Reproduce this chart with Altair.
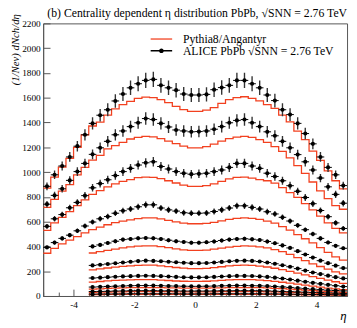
import altair as alt
import pandas as pd

SERIF = "Liberation Serif"
RED = "#f2401f"
FRAME = "#555555"

PYTHIA_LABEL = "Pythia8/Angantyr"
ALICE_LABEL = "ALICE PbPb √SNN = 2.76 TeV"
TITLE = "(b) Centrality dependent η distribution PbPb, √SNN = 2.76 TeV"

CENTRALITY = ["0-5%", "5-10%", "10-20%", "20-30%", "30-40%",
              "40-50%", "50-60%", "60-70%", "70-80%", "80-90%"]

ETA_EDGES = [-5.0, -4.75, -4.5, -4.25, -4.0, -3.75, -3.5, -3.25, -3.0, -2.75,
             -2.5, -2.25, -2.0, -1.75, -1.5, -1.25, -1.0, -0.75, -0.5, -0.25,
             0.0, 0.25, 0.5, 0.75, 1.0, 1.25, 1.5, 1.75, 2.0, 2.25,
             2.5, 2.75, 3.0, 3.25, 3.5, 3.75, 4.0, 4.25, 4.5, 4.75, 5.0]
# index of the first bin edge of each centrality class
FIRST_EDGE = [0, 0, 0, 0, 6, 6, 6, 6, 6, 6]
# relative size of the ALICE uncertainty bars
ERR_REL = [0.035, 0.035, 0.035, 0.035, 0.035, 0.035, 0.035, 0.04, 0.05, 0.06]

X_LABELS = [-4, -2, 0, 2, 4]
X_TICKS = [-5.0, -4.5, -4.0, -3.5, -3.0, -2.5, -2.0, -1.5, -1.0, -0.5, 0.0,
           0.5, 1.0, 1.5, 2.0, 2.5, 3.0, 3.5, 4.0, 4.5, 5.0]
Y_TICKS = [0, 200, 400, 600, 800, 1000, 1200, 1400, 1600, 1800, 2000, 2200]

ALICE = [
    [885, 978, 1049, 1122, 1209, 1301, 1393, 1459, 1503, 1574, 1630, 1680, 1713, 1740, 1748, 1700, 1680, 1661, 1630, 1622,
     1622, 1627, 1665, 1682, 1700, 1740, 1740, 1713, 1680, 1622, 1577, 1503, 1464, 1393, 1311, 1228, 1122, 1038, 978, 891],
    [741, 812, 865, 933, 1004, 1070, 1143, 1196, 1248, 1301, 1332, 1367, 1398, 1432, 1424, 1393, 1364, 1340, 1332, 1325,
     1327, 1332, 1346, 1367, 1398, 1417, 1424, 1398, 1367, 1325, 1293, 1248, 1196, 1141, 1083, 1017, 952, 881, 820, 749],
    [562, 623, 657, 712, 755, 810, 873, 907, 938, 972, 1004, 1030, 1057, 1075, 1083, 1045, 1025, 1004, 991, 983,
     986, 991, 1004, 1017, 1038, 1070, 1070, 1049, 1030, 991, 964, 930, 890, 845, 795, 745, 690, 640, 590, 545],
    [392, 431, 465, 491, 526, 565, 597, 623, 641, 668, 688, 702, 720, 736, 736, 710, 695, 685, 672, 668,
     668, 670, 682, 695, 710, 728, 728, 715, 702, 680, 662, 635, 605, 570, 535, 500, 465, 432, 405, 385],
    [400, 412, 428, 442, 455, 460, 466, 468, 466, 460, 450, 442, 436, 430,
     430, 434, 440, 448, 455, 460, 462, 458, 452, 440, 426, 408, 388, 362, 335, 310, 285, 265, 245, 225],
    [247, 252, 258, 264, 270, 276, 282, 285, 283, 280, 276, 272, 268, 265,
     265, 266, 270, 275, 280, 284, 285, 283, 278, 270, 260, 248, 236, 221, 205, 190, 177, 164, 152, 142],
    [145, 148, 152, 155, 158, 160, 162, 163, 162, 160, 157, 154, 151, 150,
     150, 151, 154, 157, 160, 162, 162, 161, 158, 154, 148, 141, 133, 124, 115, 106, 98, 90, 83, 76],
    [72, 74, 77, 79, 81, 83, 84, 84, 84, 83, 81, 80, 79, 78,
     78, 79, 80, 82, 83, 84, 84, 83, 82, 80, 77, 73, 69, 64, 59, 55, 51, 47, 44, 41],
    [36, 37, 38, 40, 41, 42, 43, 43, 43, 42, 42, 41, 40, 40,
     40, 40, 41, 42, 42, 43, 43, 43, 42, 41, 39, 37, 35, 33, 31, 29, 27, 25, 23, 21],
    [15, 16, 16, 17, 17, 18, 18, 18, 18, 18, 18, 18, 17, 17,
     17, 17, 18, 18, 18, 18, 18, 18, 18, 17, 17, 16, 15, 14, 13, 12, 12, 11, 10, 9],
]

PYTHIA = [
    [870, 960, 1040, 1110, 1200, 1300, 1372, 1403, 1460, 1510, 1545, 1570, 1595, 1605, 1600, 1585, 1560, 1530, 1505, 1490,
     1490, 1500, 1520, 1555, 1585, 1600, 1608, 1595, 1575, 1545, 1515, 1460, 1405, 1330, 1262, 1170, 1095, 1010, 930, 865],
    [715, 780, 846, 899, 978, 1038, 1096, 1135, 1188, 1214, 1240, 1267, 1280, 1288, 1285, 1270, 1250, 1230, 1210, 1196,
     1196, 1205, 1225, 1250, 1270, 1283, 1288, 1280, 1262, 1240, 1205, 1168, 1115, 1052, 990, 920, 848, 785, 730, 700],
    [530, 590, 635, 680, 730, 775, 820, 850, 880, 905, 925, 940, 955, 960, 958, 948, 930, 912, 895, 885,
     885, 890, 905, 925, 945, 958, 960, 952, 940, 930, 910, 875, 835, 795, 745, 695, 645, 590, 545, 510],
    [345, 385, 420, 450, 480, 510, 535, 555, 575, 592, 605, 615, 625, 630, 630, 622, 610, 598, 588, 583,
     583, 586, 595, 607, 618, 626, 630, 626, 618, 605, 588, 560, 531, 495, 462, 428, 390, 352, 315, 290],
    [347, 358, 368, 378, 388, 396, 402, 405, 404, 398, 390, 380, 372, 368,
     368, 371, 378, 386, 395, 401, 404, 402, 397, 388, 375, 358, 335, 310, 285, 260, 238, 217, 195, 178],
    [210, 218, 226, 233, 239, 244, 248, 250, 249, 244, 237, 230, 225, 221,
     221, 223, 229, 236, 243, 248, 250, 248, 242, 234, 224, 213, 198, 184, 170, 156, 142, 128, 115, 102],
    [112, 117, 122, 126, 129, 131, 133, 133, 132, 129, 125, 121, 119, 118,
     118, 119, 122, 126, 130, 132, 133, 132, 129, 124, 118, 111, 103, 95, 87, 79, 71, 64, 58, 52],
    [56, 58, 61, 63, 65, 67, 68, 68, 68, 67, 66, 65, 64, 64,
     64, 64, 65, 66, 67, 68, 68, 68, 67, 65, 62, 59, 55, 51, 47, 43, 39, 36, 33, 30],
    [30, 31, 32, 33, 34, 35, 36, 36, 36, 35, 35, 34, 34, 34,
     34, 34, 34, 35, 35, 36, 36, 36, 35, 34, 33, 31, 29, 27, 25, 23, 21, 19, 17, 15],
    [12, 12, 13, 13, 14, 14, 14, 14, 14, 14, 14, 14, 14, 14,
     14, 14, 14, 14, 14, 14, 14, 14, 14, 14, 13, 13, 12, 11, 10, 9, 9, 8, 7, 6],
]

# ---- tables built from the arrays above ----
alice_rows, model_rows = [], []
for k, cent in enumerate(CENTRALITY):
    s = FIRST_EDGE[k]
    for i, v in enumerate(ALICE[k]):
        lo, hi = ETA_EDGES[s + i], ETA_EDGES[s + i + 1]
        alice_rows.append({"cent": cent, "eta": (lo + hi) / 2, "lo": lo, "hi": hi,
                           "val": v, "ylo": v * (1 - ERR_REL[k]), "yhi": v * (1 + ERR_REL[k]),
                           "exp": ALICE_LABEL})
    pv = PYTHIA[k]
    for i, v in enumerate(pv):
        model_rows.append({"cent": cent, "eta": ETA_EDGES[s + i], "val": v, "model": PYTHIA_LABEL})
    model_rows.append({"cent": cent, "eta": ETA_EDGES[s + len(pv)], "val": pv[-1], "model": PYTHIA_LABEL})

alice_df = pd.DataFrame(alice_rows)
model_df = pd.DataFrame(model_rows)

W, H = 311, 279
xs = alt.Scale(domain=[-5, 5], nice=False, zero=False)
ys = alt.Scale(domain=[0, 2200], nice=False, zero=False)

ALICE_SYMBOL = ("M-1,-0.06H1V0.06H-1Z "
                "M0.22,0A0.22,0.22 0 1,1 -0.22,0A0.22,0.22 0 1,1 0.22,0Z")

lines = alt.Chart(model_df).mark_line(interpolate="step-after", strokeWidth=1.3, clip=True).encode(
    x=alt.X("eta:Q", scale=xs, axis=alt.Axis(
        orient="bottom", values=X_LABELS, ticks=False, grid=False,
        domainColor=FRAME, labelExpr="'' + datum.value",
        labelFont=SERIF, labelFontSize=9.5, labelColor="black", labelPadding=4,
        title="η", titleFont=SERIF, titleFontSize=13, titleFontStyle="italic",
        titleFontWeight="normal", titleAlign="right", titleBaseline="alphabetic",
        titleX=W - 1, titleY=24)),
    y=alt.Y("val:Q", scale=ys, axis=alt.Axis(
        orient="left", values=Y_TICKS, ticks=False, grid=False, format="d",
        domainColor=FRAME, labelFont=SERIF, labelFontSize=9.5, labelColor="black",
        labelPadding=3,
        title="(1/Nev) dNch/dη", titleFont=SERIF, titleFontSize=11,
        titleFontStyle="italic", titleFontWeight="normal", titleAngle=270,
        titleAlign="right", titleBaseline="alphabetic", titleX=-25, titleY=-10)),
    color=alt.Color("model:N", scale=alt.Scale(domain=[PYTHIA_LABEL], range=[RED]),
                    legend=alt.Legend(orient="none", legendX=109, legendY=4, title=None,
                                      symbolType="stroke", symbolSize=484,
                                      symbolStrokeWidth=1.3, labelFont=SERIF,
                                      labelFontSize=12, labelColor="black",
                                      labelOffset=10)),
    detail="cent:N",
)

vbars = alt.Chart(alice_df).mark_rule(color="#333333", strokeWidth=1.4, clip=True).encode(
    x=alt.X("eta:Q", scale=xs, axis=None),
    y=alt.Y("ylo:Q", scale=ys, axis=None),
    y2="yhi:Q",
)

hbars = alt.Chart(alice_df).mark_rule(color="black", strokeWidth=1, clip=True).encode(
    x=alt.X("lo:Q", scale=xs, axis=None),
    x2="hi:Q",
    y=alt.Y("val:Q", scale=ys, axis=None),
)

points = alt.Chart(alice_df).mark_circle(size=18, opacity=1, clip=True).encode(
    x=alt.X("eta:Q", scale=xs, axis=alt.Axis(
        orient="top", offset=-H, values=X_TICKS, labels=False, domain=False,
        grid=False, tickColor=FRAME, tickWidth=1,
        tickSize={"condition": {"test": "datum.value % 2 === 0", "value": 7}, "value": 4},
        title=None)),
    y=alt.Y("val:Q", scale=ys, axis=alt.Axis(
        orient="right", offset=-W, values=Y_TICKS, labels=False, domain=False,
        grid=False, tickColor=FRAME, tickWidth=1, tickSize=7, title=None)),
    color=alt.Color("exp:N", scale=alt.Scale(domain=[ALICE_LABEL], range=["black"]),
                    legend=alt.Legend(orient="none", legendX=109, legendY=16, title=None,
                                      symbolType=ALICE_SYMBOL, symbolSize=484,
                                      symbolOpacity=1, labelFont=SERIF,
                                      labelFontSize=12, labelColor="black",
                                      labelOffset=10)),
)

chart = alt.layer(lines, vbars, hbars, points).resolve_scale(
    color="independent"
).resolve_axis(
    x="independent", y="independent"
).properties(
    width=W, height=H,
    padding={"left": 36, "top": 12, "right": 2, "bottom": 29},
    autosize=alt.AutoSizeParams(type="none"),
    title=alt.TitleParams(TITLE, anchor="end", frame="group", font=SERIF, fontSize=12,
                          fontWeight="normal", color="black", baseline="alphabetic",
                          offset=0, dy=15),
).configure_view(stroke=FRAME, strokeWidth=1)

chart.save("out.html", embed_options={"renderer": "svg", "actions": False})
